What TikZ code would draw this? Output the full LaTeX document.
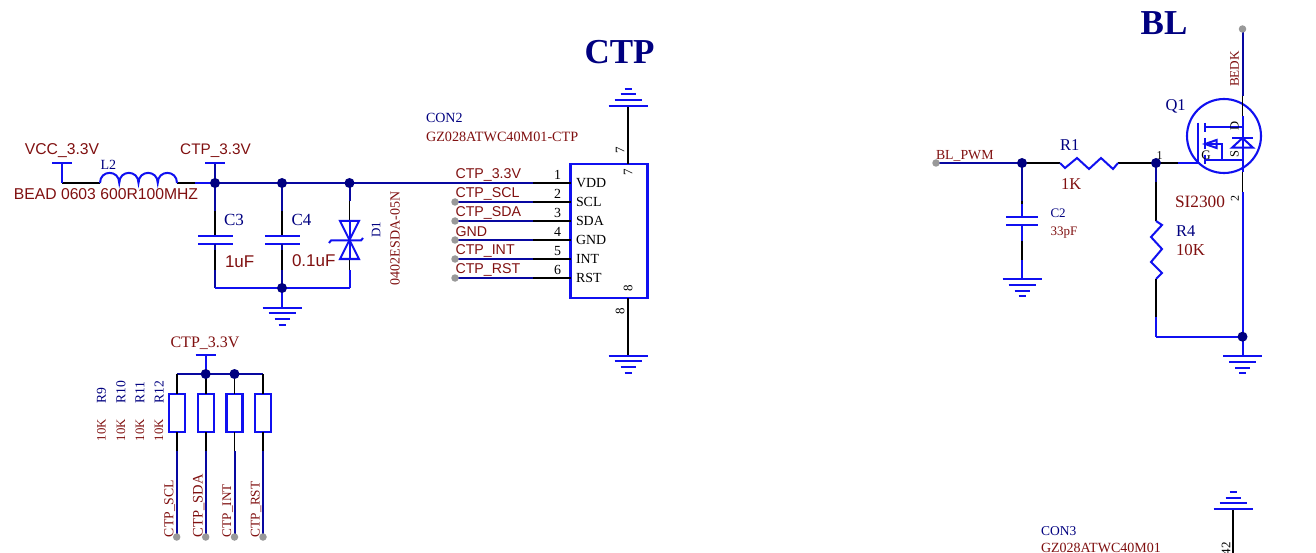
\documentclass[tikz,border=0pt]{standalone}
\usepackage{fontspec}
\setmainfont{Liberation Serif}
\newfontfamily\arialf{Liberation Sans}
\definecolor{dred}{HTML}{801010}
\definecolor{navy}{HTML}{000080}
\definecolor{bbl}{HTML}{1010F0}
\definecolor{wirec}{HTML}{0808A0}
\definecolor{dotg}{HTML}{999999}
\newcommand{\fsz}[1]{\fontsize{#1}{#1}\selectfont}
\tikzset{
  x=1pt,y=-1pt,
  lbl/.style={inner sep=0pt,outer sep=0pt,anchor=center},
  rs/.style={lbl,text=dred,font=\arialf\fsz{14.2}},
  rt/.style={lbl,text=dred,font=\fsz{13.5}},
  bt/.style={lbl,text=navy,font=\fsz{14}},
  kt/.style={lbl,text=black,font=\fsz{13}},
  title/.style={lbl,text=navy,font=\bfseries\fsz{35}},
  wire/.style={draw=wirec,line width=2pt},
  pinw/.style={draw=black,line width=1.9pt},
  sym/.style={draw=bbl,line width=2pt},
  junc/.style={circle,fill=navy,draw=none,minimum size=10pt,inner sep=0pt},
  endp/.style={circle,fill=dotg,draw=none,minimum size=7.5pt,inner sep=0pt},
}
% ground symbol: #1 x, #2 y of long bar, #3 direction (+1 below, -1 above)
\newcommand{\gndsym}[3]{%
  \draw[sym] (#1-19.5,#2) -- (#1+19.5,#2);
  \draw[sym] (#1-13.5,#2+#3*5.8) -- (#1+13.5,#2+#3*5.8);
  \draw[sym] (#1-7.5,#2+#3*11.5) -- (#1+7.5,#2+#3*11.5);
  \draw[sym] (#1-3.5,#2+#3*17) -- (#1+3.5,#2+#3*17);
}
\begin{document}
\begin{tikzpicture}
\clip (0,0) rectangle (1316,553);
\fill[white] (0,0) rectangle (1316,553);

%------------- Titles
\node[title] (tctp) at (619.5,52) {CTP};
\node[title] (tbl) at (1164,23) {BL};

%------------- Input filter
\coordinate (vcc) at (62,183);
\coordinate (vcct) at (62,163);
\coordinate (lL) at (100,183);
\coordinate (lR) at (177,183);
\coordinate (j1p) at (215,183);
\coordinate (ctpt) at (215,163);
\coordinate (pin1) at (533,183);
\coordinate (c3a) at (215,236);
\coordinate (c3b) at (215,244);
\coordinate (c4a) at (282,236);
\coordinate (c4b) at (282,244);
\coordinate (c3g) at (215,288);
\coordinate (d1g) at (349.5,288);
\coordinate (d1a) at (349.5,221);
\coordinate (d1b) at (349.5,259);
\coordinate (g1) at (282,307.5);
\coordinate (j2p) at (282,183);
\coordinate (j3p) at (349.5,183);
\coordinate (j4p) at (282,288);

\draw[wire] (j1p) -- (pin1);
\draw[pinw] (lR) -- (j1p);
\draw[sym] (195,183) -- (j1p);
\draw[wire] (j1p) -- (ctpt);
\draw[sym] (205,163) -- (225,163);
\draw[pinw] (vcc) -- (lL);
\draw[sym] (vcct) -- (vcc);
\draw[sym] (52,163) -- (72,163);
\draw[sym] (lL) .. controls (100,169.5) and (119.25,169.5) .. (119.25,183)
  .. controls (119.25,169.5) and (138.5,169.5) .. (138.5,183)
  .. controls (138.5,169.5) and (157.75,169.5) .. (157.75,183)
  .. controls (157.75,169.5) and (177,169.5) .. (lR);
\draw[wire] (j1p) -- (215,211); \draw[pinw] (215,211) -- (c3a);
\draw[wire] (j2p) -- (282,211); \draw[pinw] (282,211) -- (c4a);
\draw[wire] (j3p) -- (349.5,201); \draw[pinw] (349.5,201) -- (d1a);
\draw[sym] (198,236) -- (233,236);
\draw[sym] (198,244) -- (233,244);
\draw[sym] (265,236) -- (300,236);
\draw[sym] (265,244) -- (300,244);
\draw[wire] (c3b) -- (215,250); \draw[pinw] (215,250) -- (215,270); \draw[wire] (215,270) -- (c3g);
\draw[wire] (c4b) -- (282,250); \draw[pinw] (282,250) -- (282,270); \draw[wire] (282,270) -- (j4p);
\draw[sym] (c3g) -- (d1g);
\draw[pinw] (d1b) -- (349.5,270); \draw[sym] (349.5,270) -- (d1g);
\draw[sym] (j4p) -- (g1);
\gndsym{282}{307.5}{1}
% TVS diode
\draw[sym,line join=miter] (340,221) -- (359,221) -- (349.5,240) -- cycle;
\draw[sym,line join=miter] (340,259) -- (359,259) -- (349.5,240) -- cycle;
\draw[sym] (329,243) -- (331,240.5) -- (361,240.5) -- (363,238);
\draw[sym] (d1a) -- (d1b);
\node[junc] (j1) at (j1p) {};
\node[junc] (j2) at (j2p) {};
\node[junc] (j3) at (j3p) {};
\node[junc] (j4) at (j4p) {};

\node[rs,font=\arialf\fsz{15.7}] (tvcc) at (62,150.5) {VCC\_3.3V};
\node[rs,font=\arialf\fsz{15.3}] (tctp1) at (215.5,150.5) {CTP\_3.3V};
\node[bt,anchor=west] (tl2) at (100.5,165) {L2};
\node[rs,font=\arialf\fsz{15.7}] (tbead) at (106,194) {BEAD 0603 600R100MHZ};
\node[bt,font=\fsz{17},anchor=west] (tc3) at (224,219.5) {C3};
\node[bt,font=\fsz{17},anchor=west] (tc4) at (291.5,219.5) {C4};
\node[rs,font=\arialf\fsz{17},anchor=west] (t1u) at (225,261.5) {1uF};
\node[rs,font=\arialf\fsz{17},anchor=west] (t01u) at (292,260.5) {0.1uF};
\node[bt,font=\fsz{13},rotate=90] (td1) at (376,230) {D1};
\node[rt,font=\fsz{14},rotate=90] (tesd) at (395,238.5) {0402ESDA-05N};

%------------- Connector CON2
\node[draw=bbl,line width=2.1pt,minimum width=77pt,minimum height=134pt,inner sep=0pt,outer sep=0pt,anchor=north west] (con2) at (570.5,164) {};
\coordinate (p1) at (570.5,183);
\foreach \n/\y/\lab/\net/\num in {2/202/SCL/CTP\_SCL/2,3/221/SDA/CTP\_SDA/3,4/240/GND/GND/4,5/259/INT/CTP\_INT/5,6/278/RST/CTP\_RST/6}{
  \coordinate (m\n) at (533,\y);
  \coordinate (p\n) at (570.5,\y);
  \coordinate (s\n) at (455,\y);
  \draw[wire] (s\n) -- (m\n);
  \draw[pinw] (m\n) -- (p\n);
  \node[endp] (e\n) at (s\n) {};
  \node[rs,anchor=west] (net\n) at (455.5,\y-8) {\net};
  \node[kt,anchor=center,font=\fsz{13.9}] (num\n) at (557.5,\y-8) {\num};
  \node[kt,anchor=west,font=\fsz{13.9}] (pl\n) at (576,\y) {\lab};
}
\draw[pinw] (pin1) -- (p1);
\node[rs,anchor=west] (net1) at (455.5,175) {CTP\_3.3V};
\node[kt,font=\fsz{13.9}] (num1) at (557.5,175) {1};
\node[kt,anchor=west,font=\fsz{13.9}] (pl1) at (576,183) {VDD};
\node[bt,anchor=west] (tcon2) at (426,117.5) {CON2};
\node[rt,anchor=west,font=\fsz{14.2}] (tgz) at (426,136.5) {GZ028ATWC40M01-CTP};
\coordinate (p7) at (628,164);
\coordinate (g7) at (628,106);
\coordinate (p8) at (628,298);
\coordinate (g8) at (628,355);
\draw[pinw] (p7) -- (g7);
\draw[pinw] (p8) -- (g8);
\gndsym{628}{106}{-1}
\gndsym{628}{355.5}{1}
\node[kt,rotate=90] (n7a) at (620,150.5) {7};
\node[kt,rotate=90] (n7b) at (628,172.5) {7};
\node[kt,rotate=90] (n8a) at (628,288.5) {8};
\node[kt,rotate=90] (n8b) at (620,311) {8};

%------------- Pull-ups
\coordinate (rl) at (176.7,374);
\coordinate (rr) at (263,374);
\coordinate (tee) at (205.7,355);
\coordinate (j5p) at (205.7,374);
\coordinate (j6p) at (234.5,374);
\draw[wire] (rl) -- (rr);
\draw[sym] (tee) -- (j5p);
\draw[sym] (195.5,355) -- (216,355);
\foreach \n/\x/\rn/\lx/\net/\fs in {9/176.7/R9/101.5/CTP\_SCL/13.7,10/205.7/R10/121/CTP\_SDA/14.5,11/234.5/R11/140/CTP\_INT/13.2,12/263/R12/159/CTP\_RST/13.3}{
  \coordinate (rt\n) at (\x,374);
  \coordinate (rb\n) at (\x,451);
  \coordinate (rs\n) at (\x,537);
  \node[draw=bbl,line width=2.1pt,minimum width=16pt,minimum height=38pt,inner sep=0pt,outer sep=0pt] (r\n) at (\x,413) {};
  \draw[pinw] (rt\n) -- (r\n.north);
  \draw[pinw] (r\n.south) -- (rb\n);
  \draw[wire] (rb\n) -- (rs\n);
  \node[endp] (re\n) at (rs\n) {};
  \node[bt,font=\fsz{13.6},rotate=90,anchor=west] (tr\n) at (\lx,403.5) {\rn};
  \node[rt,font=\fsz{12.8},rotate=90] (tv\n) at (\lx,430) {10K};
  \node[rt,font=\fsz{\fs},rotate=90,anchor=west] (tn\n) at (\x-7,537) {\net};
}
\node[junc] (j5) at (j5p) {};
\node[junc] (j6) at (j6p) {};
\node[rt,font=\fsz{16}] (tctp2) at (205,343) {CTP\_3.3V};

%------------- BL driver
\coordinate (bpwmp) at (936,163);
\coordinate (j7p) at (1022,163);
\coordinate (j8p) at (1156,163);
\coordinate (j9p) at (1242.5,336.7);
\coordinate (bedkp) at (1242.5,29);
\coordinate (r1a) at (1060,163);
\coordinate (r1b) at (1118,163);
\coordinate (gate) at (1198,163);
\coordinate (c2a) at (1022,217);
\coordinate (c2b) at (1022,225);
\coordinate (g2) at (1022,279);
\coordinate (r4a) at (1156,221);
\coordinate (r4b) at (1156,279);
\coordinate (r4c) at (1156,336.7);
\coordinate (g3) at (1242.5,356);
\draw[wire] (bpwmp) -- (j7p);
\draw[pinw] (j7p) -- (r1a);
\draw[pinw] (r1b) -- (j8p);
\draw[pinw] (j8p) -- (1178,163);
\draw[sym] (1178,163) -- (gate);
\draw[sym,line join=miter] (r1a) -- (1065,168) -- (1077,158) -- (1089,169) -- (1101,158) -- (1113,169) -- (r1b);
\draw[wire] (j7p) -- (1022,201); \draw[pinw] (1022,201) -- (1022,204); \draw[sym] (1022,204) -- (c2a);
\draw[sym] (1006,217) -- (1038,217);
\draw[sym] (1006,225) -- (1038,225);
\draw[sym] (c2b) -- (1022,241); \draw[pinw] (1022,241) -- (1022,260); \draw[sym] (1022,260) -- (g2);
\gndsym{1022}{279}{1}
\draw[wire] (j8p) -- (1156,182); \draw[pinw] (1156,182) -- (r4a);
\draw[sym,line join=miter] (r4a) -- (1162,225) -- (1151,237) -- (1162,249) -- (1151,262) -- (1162,273) -- (r4b);
\draw[pinw] (r4b) -- (1156,317); \draw[sym] (1156,317) -- (r4c);
\draw[sym] (r4c) -- (j9p);
\draw[sym] (j9p) -- (g3);
\gndsym{1242.5}{356}{1}
% MOSFET
\node[circle,draw=bbl,line width=2.1pt,minimum size=74pt,inner sep=0pt,outer sep=0pt] (q1) at (1224,136) {};
\coordinate (dtop) at (1242.5,96);
\coordinate (dtp) at (1242.5,116);
\coordinate (sdn) at (1242.5,172);
\coordinate (sb) at (1242.5,192);
\draw[wire] (bedkp) -- (dtop);
\draw[pinw] (dtop) -- (dtp);
\draw[sym] (dtp) -- (sdn);
\draw[pinw] (sdn) -- (sb);
\draw[sym] (sb) -- (j9p);
\draw[sym] (1198,122.7) -- (1198,164);
\draw[sym] (1204.5,123) -- (1204.5,132);
\draw[sym] (1204.5,138) -- (1204.5,149);
\draw[sym] (1204.5,155) -- (1204.5,164);
\draw[sym] (1204.5,126.7) -- (1242.5,126.7);
\draw[sym] (1204.5,160) -- (1242.5,160);
\draw[sym] (1204.5,144) -- (1222,144) -- (1222,160);
\draw[sym,line join=miter] (1205,144) -- (1216.5,140) -- (1216.5,148) -- cycle;
\draw[sym] (1232,138) -- (1253,138);
\draw[sym,line join=miter] (1242.5,138) -- (1253,147.7) -- (1232,147.7) -- cycle;
\node[junc] (j7) at (j7p) {};
\node[junc] (j8) at (j8p) {};
\node[junc] (j9) at (j9p) {};
\node[endp] (bpwm) at (bpwmp) {};
\node[endp] (bedk) at (bedkp) {};
\node[kt,font=\fsz{12.5},rotate=90] (td) at (1234.5,126) {D};
\node[kt,font=\fsz{12.5},rotate=90] (ts) at (1234.5,154) {S};
\node[kt,font=\fsz{13}] (tg) at (1206,155) {G};
\node[kt,font=\fsz{12}] (t1) at (1159.5,155.5) {1};
\node[kt,font=\fsz{12},rotate=90] (t2) at (1235,198.5) {2};
\node[rt,font=\fsz{13.2},rotate=90] (tbedk) at (1234.5,69) {BEDK};
\node[bt,font=\fsz{16.5},anchor=west] (tq1) at (1165.5,106.5) {Q1};
\node[rt,font=\fsz{17.3},anchor=west] (tsi) at (1175,202) {SI2300};
\node[rt,font=\fsz{13.8},anchor=west] (tpwm) at (936,155.5) {BL\_PWM};
\node[bt,font=\fsz{16.5},anchor=west] (tr1) at (1060,145.5) {R1};
\node[rt,font=\fsz{16.5},anchor=west] (t1k) at (1061,184) {1K};
\node[bt,font=\fsz{16.5},anchor=west] (tr4) at (1176,231) {R4};
\node[rt,font=\fsz{16.8},anchor=west] (t10k) at (1176,250) {10K};
\node[bt,font=\fsz{13},anchor=west] (tc2) at (1050.5,213.5) {C2};
\node[rt,font=\fsz{13},anchor=west] (t33) at (1050.5,232.5) {33pF};

%------------- CON3 (cut off by the page edge)
\coordinate (g4) at (1233,509);
\coordinate (g4b) at (1233,553);
\draw[pinw] (g4) -- (g4b);
\gndsym{1233}{509}{-1}
\node[bt,font=\fsz{13.5},anchor=west] (tcon3) at (1041,531) {CON3};
\node[rt,font=\fsz{14},anchor=west] (tgz3) at (1041,547.5) {GZ028ATWC40M01};
\node[kt,rotate=90] (n42) at (1226,548.5) {42};
\end{tikzpicture}
\end{document}
